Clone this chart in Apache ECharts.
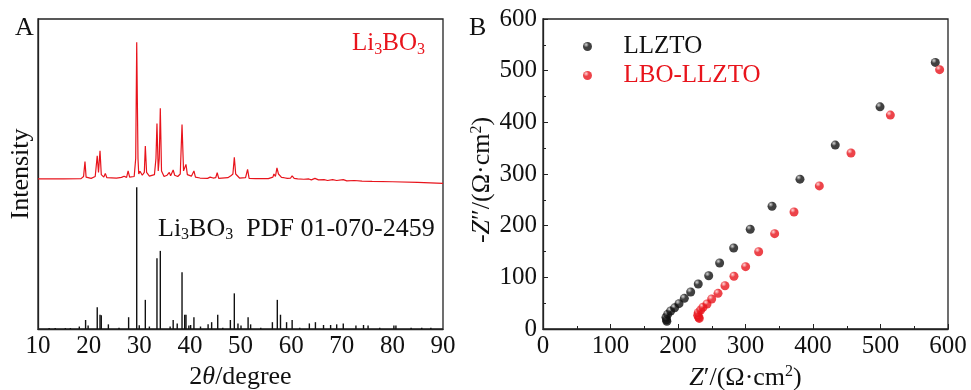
<!DOCTYPE html>
<html><head><meta charset="utf-8">
<script src="https://cdn.jsdelivr.net/npm/echarts@6/dist/echarts.min.js"></script>
<style>html,body{margin:0;padding:0;background:#fff}#c{width:971px;height:390px}</style>
</head><body><div id="c"></div>
<script>
// ---- Panel A: XRD of Li3BO3 (2theta, relative intensity above reference) ----
const xrdMeasured = [
 [10,1.4],[15,1.4],[18.5,1.5],[19.0,2.2],[19.28,7.0],[19.5,2.0],[20.5,1.6],[21.3,2.2],[21.7,8.9],[21.95,3.5],
 [22.25,10.5],[22.5,2.8],[23.0,2.0],[23.3,3.2],[23.6,1.8],[25.5,1.7],[26.5,1.9],[27.0,2.3],[27.5,1.9],[27.8,4.0],
 [28.1,2.0],[29.0,2.2],[29.3,8.0],[29.5,45.5],[29.75,8.0],[29.9,3.0],[30.15,3.9],[30.6,2.6],[31.0,3.5],[31.2,12.0],
 [31.45,3.5],[32.0,2.3],[33.0,2.8],[33.3,8.0],[33.5,19.3],[33.75,4.0],[33.95,8.0],[34.16,24.2],[34.4,4.0],[34.9,2.2],
 [35.5,2.6],[35.94,3.5],[36.2,2.4],[36.7,4.3],[37.0,2.6],[37.3,3.0],[37.6,2.2],[38.1,3.0],[38.45,19.0],[38.75,4.0],
 [39.0,3.6],[39.23,6.1],[39.5,2.8],[40.3,2.3],[40.8,4.0],[41.1,2.0],[42.0,1.7],[43.5,1.6],[44.0,2.0],[44.3,2.4],
 [44.6,1.7],[45.1,1.8],[45.4,3.4],[45.7,1.6],[47.5,1.8],[48.1,2.4],[48.5,3.0],[48.78,8.4],[49.05,3.0],[49.4,2.6],
 [49.8,1.7],[51.0,1.8],[51.4,4.5],[51.7,1.6],[53.0,1.5],[55.5,1.5],[56.4,2.0],[56.6,3.0],[56.9,2.2],[57.2,5.0],
 [57.5,3.0],[57.8,3.2],[58.1,1.9],[58.6,1.8],[59.25,1.6],[59.9,1.7],[60.2,2.4],[60.6,1.6],[61.3,1.4],[62.5,1.3],
 [63.5,1.4],[64.0,1.1],[64.7,1.6],[65.4,1.1],[66.5,1.2],[67.2,0.9],[68.2,1.2],[69.0,0.9],[70.3,1.2],[71.0,0.8],
 [72.5,0.9],[74.0,0.7],[76.0,0.6],[80.0,0.5],[85.0,0.3],[90.0,0.0]
];
// PDF 01-070-2459 reference sticks (2theta, relative intensity)
const pdfSticks = [
 [12.2,0.3],[13.4,0.3],[15.4,0.3],[16.4,0.3],[18.16,0.8],[19.4,2.9],[19.9,1.1],[21.7,7.0],[22.25,4.6],[22.5,4.4],
 [23.9,1.5],[26.0,0.4],[27.9,3.8],[29.5,45.7],[30.0,1.2],[31.2,9.4],[32.0,0.8],[33.5,22.8],[34.16,25.2],[36.1,0.8],
 [36.7,2.9],[37.5,1.8],[38.45,18.3],[38.98,4.6],[39.23,4.6],[39.8,1.1],[40.15,1.3],[40.8,3.8],[42.1,0.8],[43.6,1.5],
 [44.3,2.2],[45.5,4.6],[46.5,0.4],[48.0,2.9],[48.78,11.5],[49.5,1.8],[50.1,1.1],[51.5,3.8],[52.0,1.5],[54.0,0.4],
 [56.3,2.2],[57.27,9.4],[57.9,4.6],[59.1,2.2],[60.2,2.9],[61.7,0.4],[63.6,1.8],[64.8,2.2],[66.4,1.3],[67.8,1.3],
 [69.0,1.5],[70.3,1.8],[72.8,1.1],[74.3,1.3],[75.2,1.1],[77.5,0.4],[80.3,1.1],[80.7,1.1],[83.7,0.4],[85.8,0.4],[87.6,0.4]
];
const xrdTicks = [10,20,30,40,50,60,70,80,90];

// ---- Panel B: Nyquist plots ----
const llztoZre = [183.5,183.0,182.2,184.7,189.1,195.0,201.5,209.4,218.8,230.0,245.5,261.7,282.5,307.0,339.3,380.7,433.0,499.3,581.2];
const llztoZim = [15.0,18.0,22.6,28.4,34.8,41.0,49.0,59.4,71.6,87.0,103.0,127.7,156.8,193.0,237.5,290.0,356.0,430.0,516.0];
const lboZre = [231.5,230.7,229.2,230.0,233.6,237.0,243.0,249.9,259.3,269.6,282.9,300.2,319.5,343.2,371.9,409.4,456.3,514.6,587.6];
const lboZim = [20.5,22.6,26.5,31.5,36.8,42.0,48.4,58.0,69.0,83.8,102.0,120.6,149.6,184.5,226.5,277.0,340.6,414.0,502.0];
const nyqTicks = [0,100,200,300,400,500,600];

const RED = '#e8141c';
const FONT = '"Liberation Serif","Times New Roman",serif';
const RED_OFFSET = 47;

const chart = echarts.init(document.getElementById('c'), null, {renderer:'canvas'});

function sphere(base, hi) {
  return {type:'radial', x:0.35, y:0.3, r:0.75, colorStops:[{offset:0,color:hi},{offset:0.4,color:base},{offset:1,color:base}]};
}
const subStyle = {fontSize:16, fontFamily:FONT, padding:[12,0,0,0]};

const axisCommon = {
  axisLine:{show:true, onZero:false, lineStyle:{color:'#222', width:1.3}},
  splitLine:{show:false},
  axisLabel:{fontFamily:FONT, fontSize:25, color:'#111'},
  nameTextStyle:{fontFamily:FONT, fontSize:26, color:'#111'}
};

chart.setOption({
  animation:false,
  grid:[
    {left:38, top:19, width:405, height:310, show:true, borderColor:'#222', borderWidth:1.3, backgroundColor:'transparent', containLabel:false, outerBoundsMode:'none'},
    {left:543, top:19, width:405, height:310, show:true, borderColor:'#222', borderWidth:1.3, backgroundColor:'transparent', containLabel:false, outerBoundsMode:'none'}
  ],
  xAxis:[
    Object.assign({}, axisCommon, {gridIndex:0, type:'value', min:10, max:90, interval:10,
      axisTick:{show:false},
      axisLabel:Object.assign({}, axisCommon.axisLabel, {margin:5, formatter:v=>xrdTicks.includes(v)?String(v):''}),
      name:'{r|2}{i|θ}{r|/degree}', nameLocation:'middle', nameGap:30,
      nameTextStyle:{rich:{r:{fontFamily:FONT,fontSize:26,color:'#111'}, i:{fontFamily:FONT,fontSize:26,fontStyle:'italic',color:'#111'}}}
    }),
    Object.assign({}, axisCommon, {gridIndex:1, type:'value', min:0, max:600, interval:100,
      axisTick:{show:true, inside:true, length:5, lineStyle:{color:'#222'}},
      minorTick:{show:true, splitNumber:2, length:3, lineStyle:{color:'#222'}},
      axisLabel:Object.assign({}, axisCommon.axisLabel, {margin:5, formatter:v=>nyqTicks.includes(v)?String(v):''}),
      name:'{i|Z}{r|′/(Ω·cm}{s|2}{r|)}', nameLocation:'middle', nameGap:30,
      nameTextStyle:{rich:{r:{fontFamily:FONT,fontSize:26,color:'#111'}, i:{fontFamily:FONT,fontSize:26,fontStyle:'italic',color:'#111'},
        s:{fontFamily:FONT,fontSize:16,color:'#111',padding:[0,0,12,0]}}}
    })
  ],
  yAxis:[
    Object.assign({}, axisCommon, {gridIndex:0, type:'value', min:0, max:100,
      axisTick:{show:false}, axisLabel:{show:false},
      name:'Intensity', nameLocation:'middle', nameGap:4
    }),
    Object.assign({}, axisCommon, {gridIndex:1, type:'value', min:0, max:600, interval:100,
      axisTick:{show:true, inside:true, length:5, lineStyle:{color:'#222'}},
      minorTick:{show:true, splitNumber:2, length:3, lineStyle:{color:'#222'}},
      axisLabel:Object.assign({}, axisCommon.axisLabel, {margin:6, formatter:v=>nyqTicks.includes(v)?String(v):''}),
      name:'{r|-}{i|Z}{r|″/(Ω·cm}{s|2}{r|)}', nameLocation:'middle', nameGap:30,
      nameTextStyle:{padding:[0,12,0,0], rich:{r:{fontFamily:FONT,fontSize:26,color:'#111'}, i:{fontFamily:FONT,fontSize:26,fontStyle:'italic',color:'#111'},
        s:{fontFamily:FONT,fontSize:16,color:'#111',padding:[0,0,12,0]}}}
    })
  ],
  legend:{
    left:578, top:29, orient:'vertical', itemGap:4, itemWidth:62, itemHeight:9,
    icon:'circle', textStyle:{fontFamily:FONT, fontSize:25},
    data:[{name:'LLZTO', textStyle:{color:'#111'}}, {name:'LBO-LLZTO', textStyle:{color:RED}}]
  },
  graphic:[
    {type:'text', left:15, top:15, style:{text:'A', font:'26px '+FONT, fill:'#111'}},
    {type:'text', left:469, top:15, style:{text:'B', font:'26px '+FONT, fill:'#111'}},
    {type:'text', left:352, top:31, style:{text:'{m|Li}{s|3}{m|BO}{s|3}', fill:RED,
      rich:{m:{fontFamily:FONT,fontSize:25,fill:RED}, s:Object.assign({}, subStyle, {fill:RED})}}},
    {type:'text', left:158, top:216, style:{text:'{m|Li}{s|3}{m|BO}{s|3}{m|  PDF 01-070-2459}', fill:'#111',
      rich:{m:{fontFamily:FONT,fontSize:26,fill:'#111'}, s:Object.assign({}, subStyle, {fill:'#111'})}}}
  ],
  series:[
    {type:'line', xAxisIndex:0, yAxisIndex:0, showSymbol:false, symbol:'none',
     lineStyle:{color:RED, width:1.2}, data: xrdMeasured.map(p=>[p[0], p[1]+RED_OFFSET]), silent:true, z:3},
    {type:'custom', xAxisIndex:0, yAxisIndex:0, data: pdfSticks, silent:true,
     renderItem:function(params, api){
       const x = api.value(0), h = api.value(1);
       const p0 = api.coord([x,0]), p1 = api.coord([x,h]);
       return {type:'line', shape:{x1:p0[0], y1:p0[1], x2:p1[0], y2:p1[1]}, style:{stroke:'#111', lineWidth:1.4}};
     }},
    {name:'LLZTO', type:'scatter', xAxisIndex:1, yAxisIndex:1, symbolSize:9,
     itemStyle:{color:sphere('#111','#cccccc')}, data: llztoZre.map((v,i)=>[v, llztoZim[i]])},
    {name:'LBO-LLZTO', type:'scatter', xAxisIndex:1, yAxisIndex:1, symbolSize:9,
     itemStyle:{color:sphere(RED,'#ffd0d0')}, data: lboZre.map((v,i)=>[v, lboZim[i]])}
  ]
});
</script>
</body></html>
